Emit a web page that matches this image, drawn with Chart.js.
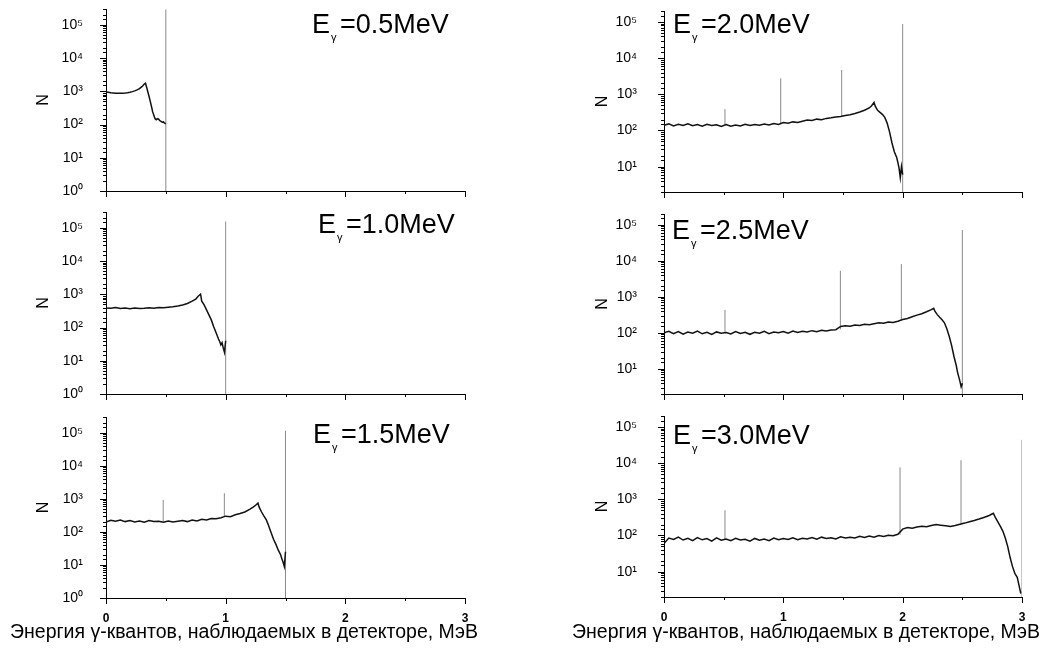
<!DOCTYPE html>
<html>
<head>
<meta charset="utf-8">
<script src="https://cdn.jsdelivr.net/npm/chart.js@4.4.1/dist/chart.umd.min.js"></script>
<style>
  html, body { margin: 0; padding: 0; background: #fff; }
  body { width: 1053px; height: 652px; position: relative; overflow: hidden; }
  canvas { position: absolute; }
</style>
</head>
<body>
<canvas id="c1"></canvas>
<canvas id="c2"></canvas>
<canvas id="c3"></canvas>
<canvas id="c4"></canvas>
<canvas id="c5"></canvas>
<canvas id="c6"></canvas>
<script>
//////////////////////////////// data ////////////////////////////////

// E = 0.5 MeV
const e1 = [0, 0.02, 0.04, 0.06, 0.08, 0.10, 0.12, 0.14, 0.16, 0.18, 0.20, 0.22, 0.24, 0.26, 0.28, 0.30, 0.31, 0.32, 0.33, 0.34,
            0.35, 0.36, 0.37, 0.38, 0.39, 0.40, 0.41, 0.42, 0.43, 0.44, 0.45, 0.46, 0.47, 0.48, 0.49, 0.50];
const n1 = [950, 930, 900, 890, 880, 870, 875, 880, 890, 910, 940, 980, 1030, 1100, 1200, 1380, 1500, 1650, 1750, 1300,
            950, 700, 500, 350, 240, 190, 150, 140, 150, 145, 130, 125, 118, 120, 110, 105];
const peakE1 = [0.5], peakLo1 = [1], peakHi1 = [290000];

// E = 1.0 MeV
const e2 = [0, 0.04, 0.08, 0.12, 0.16, 0.20, 0.24, 0.28, 0.32, 0.36, 0.40, 0.44, 0.48, 0.52, 0.56, 0.60, 0.64, 0.68, 0.72, 0.75,
            0.77, 0.79, 0.80, 0.82, 0.84, 0.86, 0.88, 0.90, 0.92, 0.94, 0.95, 0.96, 0.97, 0.98, 0.99, 1.00];
const n2 = [390, 380, 400, 375, 385, 370, 390, 375, 380, 395, 380, 400, 395, 410, 420, 445, 480, 530, 620, 720,
            880, 1010, 620, 480, 340, 240, 170, 105, 70, 45, 38, 30, 35, 24, 18, 40];
const peakE2 = [1.0], peakLo2 = [1], peakHi2 = [155000];

// E = 1.5 MeV
const e3 = [0, 0.04, 0.08, 0.12, 0.16, 0.20, 0.24, 0.28, 0.32, 0.36, 0.40, 0.44, 0.48, 0.52, 0.56, 0.60, 0.64, 0.68, 0.72, 0.76,
            0.80, 0.84, 0.88, 0.92, 0.96, 1.00, 1.04, 1.08, 1.12, 1.16, 1.20, 1.23, 1.25, 1.27, 1.28, 1.30, 1.32, 1.34, 1.36, 1.38,
            1.40, 1.42, 1.44, 1.46, 1.47, 1.48, 1.49, 1.50];
const n3 = [200, 225, 210, 230, 205, 220, 200, 215, 195, 220, 205, 210, 195, 215, 200, 210, 220, 205, 230, 215,
            240, 230, 255, 250, 270, 300, 290, 330, 360, 400, 480, 560, 640, 740, 560, 400, 300, 230, 150, 95,
            60, 42, 28, 20, 15, 12, 9, 25];
const peakE3 = [0.478, 0.989, 1.5], peakLo3 = [205, 300, 1], peakHi3 = [930, 1480, 115000];

// E = 2.0 MeV
const e4 = [0, 0.04, 0.08, 0.12, 0.16, 0.20, 0.24, 0.28, 0.32, 0.36, 0.40, 0.44, 0.48, 0.52, 0.56, 0.60, 0.64, 0.68, 0.72, 0.76,
            0.80, 0.84, 0.88, 0.92, 0.96, 1.00, 1.04, 1.08, 1.12, 1.16, 1.20, 1.24, 1.28, 1.32, 1.36, 1.40, 1.44, 1.48, 1.52, 1.56,
            1.60, 1.64, 1.68, 1.72, 1.74, 1.76, 1.77, 1.79, 1.81, 1.83, 1.85, 1.87, 1.89, 1.91, 1.93, 1.95, 1.96, 1.97, 1.98, 1.99,
            2.00];
const n4 = [140, 152, 134, 148, 137, 153, 135, 146, 131, 149, 137, 143, 129, 146, 131, 141, 134, 149, 137, 146,
            139, 151, 142, 156, 147, 166, 159, 173, 167, 181, 195, 188, 206, 199, 216, 225, 236, 244, 259, 274,
            296, 326, 362, 420, 485, 600, 470, 360, 318, 280, 230, 160, 92, 46, 26, 18, 13, 9, 5, 10,
            6];
const peakE4 = [0.511, 0.978, 1.489, 2.0], peakLo4 = [140, 160, 250, 2], peakHi4 = [390, 2760, 4700, 87000];

// E = 2.5 MeV
const e5 = [0, 0.04, 0.08, 0.12, 0.16, 0.20, 0.24, 0.28, 0.32, 0.36, 0.40, 0.44, 0.48, 0.52, 0.56, 0.60, 0.64, 0.68, 0.72, 0.76,
            0.80, 0.84, 0.88, 0.92, 0.96, 1.00, 1.04, 1.08, 1.12, 1.16, 1.20, 1.24, 1.28, 1.32, 1.36, 1.40, 1.44,
            1.48, 1.52, 1.56, 1.60, 1.64, 1.68, 1.72, 1.76, 1.80, 1.84, 1.88, 1.92, 1.96, 2.00, 2.04, 2.08, 2.12, 2.16, 2.20, 2.24,
            2.26, 2.27, 2.29, 2.31, 2.33, 2.35, 2.37, 2.39, 2.41, 2.43, 2.45, 2.46, 2.47, 2.48, 2.49, 2.50];
const n5 = [100, 110, 95, 108, 92, 105, 98, 112, 94, 104, 90, 106, 97, 102, 93, 108, 96, 104, 91, 103,
            97, 110, 95, 105, 100, 108, 98, 112, 103, 110, 105, 115, 108, 118, 112, 120, 122,
            150, 158, 152, 165, 160, 172, 168, 180, 190, 185, 200, 195, 210, 235, 250, 280, 310, 340, 385, 440,
            480, 400, 320, 270, 230, 190, 130, 80, 45, 22, 12, 8, 6, 4.5, 3.2, 4];
const peakE5 = [0.511, 1.478, 1.989, 2.5], peakLo5 = [100, 125, 230, 2], peakHi5 = [430, 5300, 8100, 72000];

// E = 3.0 MeV
const e6 = [0, 0.04, 0.08, 0.12, 0.16, 0.20, 0.24, 0.28, 0.32, 0.36, 0.40, 0.44, 0.48, 0.52, 0.56, 0.60, 0.64, 0.68, 0.72, 0.76,
            0.80, 0.84, 0.88, 0.92, 0.96, 1.00, 1.04, 1.08, 1.12, 1.16, 1.20, 1.24, 1.28, 1.32, 1.36, 1.40, 1.44, 1.48, 1.52, 1.56,
            1.60, 1.64, 1.68, 1.72, 1.76, 1.80, 1.84, 1.88, 1.92, 1.96,
            2.00, 2.04, 2.08, 2.12, 2.16, 2.20, 2.24, 2.28, 2.32, 2.36, 2.40, 2.44, 2.48, 2.52, 2.56, 2.60, 2.64, 2.68, 2.72,
            2.74, 2.76, 2.78, 2.80, 2.82, 2.84, 2.86, 2.88, 2.90, 2.92, 2.94, 2.96, 2.97, 2.98, 2.99];
const n6 = [60, 85, 78, 90, 75, 84, 72, 88, 76, 82, 70, 86, 74, 80, 72, 84, 75, 79, 70, 83,
            74, 80, 72, 85, 76, 82, 78, 86, 77, 84, 80, 88, 79, 90, 83, 87, 80, 92, 85, 90,
            86, 95, 88, 96, 90, 100, 94, 102, 98, 108,
            150, 165, 158, 172, 180, 175, 190, 200, 192, 185, 178, 190, 205, 220, 240, 260, 285, 315, 350,
            380, 410, 300, 230, 175, 130, 85, 50, 25, 14, 9, 7, 5, 3.5, 2.5];
const peakE6 = [0.511, 1.978, 2.489, 3.0], peakLo6 = [80, 105, 210, 2], peakHi6 = [500, 7600, 12000, 44000];

const titleEnergies = ['0.5', '1.0', '1.5', '2.0', '2.5', '3.0'];
const xTickLabels = ['0', '1', '2', '3'];
const supDigits = ['\u2070', '\u00B9', '\u00B2', '\u00B3', '\u2074', '\u2075'];
const xTitle = 'Энергия \u03B3-квантов, наблюдаемых в детекторе, МэВ';

//////////////////////////////// layout of the six panels ////////////////////////////////

const panels = [
  { id: 'c1', e: e1, n: n1, pe: peakE1, plo: peakLo1, phi: peakHi1, left: 0,   top: 7,   w: 540, pr: 75, h: 192, yw: 106, np: 34, xh: 8,  ymin: 1, ymax: 3e5, tx: 312, ty: 33 },
  { id: 'c2', e: e2, n: n2, pe: peakE2, plo: peakLo2, phi: peakHi2, left: 0,   top: 210, w: 540, pr: 75, h: 192, yw: 106, np: 34, xh: 8,  ymin: 1, ymax: 3e5, tx: 318, ty: 233 },
  { id: 'c3', e: e3, n: n3, pe: peakE3, plo: peakLo3, phi: peakHi3, left: 0,   top: 415, w: 540, pr: 75, h: 237, yw: 106, np: 34, xh: 54, ymin: 1, ymax: 3e5, tx: 313, ty: 443, bottom: true, qx: 10 },
  { id: 'c4', e: e4, n: n4, pe: peakE4, plo: peakLo4, phi: peakHi4, left: 555, top: 9,   w: 498, pr: 31, h: 191, yw: 109, np: 38, xh: 8,  ymin: 2, ymax: 2e5, tx: 673, ty: 33 },
  { id: 'c5', e: e5, n: n5, pe: peakE5, plo: peakLo5, phi: peakHi5, left: 555, top: 212, w: 498, pr: 31, h: 190, yw: 109, np: 38, xh: 8,  ymin: 2, ymax: 2e5, tx: 672, ty: 239 },
  { id: 'c6', e: e6, n: n6, pe: peakE6, plo: peakLo6, phi: peakHi6, left: 555, top: 414, w: 498, pr: 31, h: 238, yw: 109, np: 38, xh: 55, ymin: 2, ymax: 2e5, tx: 673, ty: 444, bottom: true, qx: 572 },
];

const FONT = "'Liberation Sans', Arial, sans-serif";
Chart.defaults.font.family = FONT;
Chart.defaults.color = '#000';

const isPow10 = v => Math.abs(Math.log10(v) - Math.round(Math.log10(v))) < 1e-6;

// tick marks (long at decades / integers, short otherwise), the E_gamma caption, x axis title
const panelDecor = {
  id: 'panelDecor',
  afterDraw(chart, args, opts) {
    const { ctx, chartArea: a, scales: { x, y } } = chart;
    ctx.save();
    ctx.strokeStyle = '#000';
    ctx.lineWidth = 1;
    ctx.beginPath();
    y.ticks.forEach(t => {
      const py = Math.round(y.getPixelForValue(t.value)) + 0.5;
      const len = isPow10(t.value) ? 6 : 3;
      ctx.moveTo(a.left - len, py);
      ctx.lineTo(a.left, py);
    });
    x.ticks.forEach(t => {
      const px = Math.round(x.getPixelForValue(t.value)) + 0.5;
      const len = Number.isInteger(t.value) ? 6 : 3;
      ctx.moveTo(px, a.bottom);
      ctx.lineTo(px, a.bottom + len);
    });
    ctx.stroke();

    ctx.fillStyle = '#000';
    ctx.textBaseline = 'alphabetic';
    ctx.textAlign = 'left';
    ctx.font = '27px ' + FONT;
    ctx.fillText('E', opts.tx, opts.ty);
    ctx.fillText('=' + opts.energy + 'MeV', opts.tx + 28, opts.ty);
    ctx.font = '11px ' + FONT;
    ctx.fillText('\u03B3', opts.tx + 19, opts.ty + 8);

    if (opts.qx !== null) {
      ctx.font = '19.5px ' + FONT;
      ctx.fillText(xTitle, opts.qx, opts.qy);
    }
    ctx.restore();
  }
};

panels.forEach((p, i) => {
  const cv = document.getElementById(p.id);
  cv.width = p.w;
  cv.height = p.h;
  cv.style.left = p.left + 'px';
  cv.style.top = p.top + 'px';

  const spectrum = p.e.map((v, k) => ({ x: v, y: p.n[k] }));
  const peaks = [];
  p.pe.forEach((v, k) => {
    peaks.push({ x: v, y: p.plo[k] }, { x: v, y: p.phi[k] }, { x: v, y: null });
  });

  new Chart(cv, {
    type: 'line',
    data: {
      datasets: [{
        label: 'spectrum',
        data: spectrum,
        borderColor: '#111',
        borderWidth: 1.5,
        pointRadius: 0,
        tension: 0,
      }, {
        label: 'peaks',
        data: peaks,
        borderColor: '#8a8a8a',
        borderWidth: 1,
        pointRadius: 0,
        spanGaps: false,
      }]
    },
    options: {
      responsive: false,
      animation: false,
      events: [],
      layout: { padding: { top: 2, right: p.pr, left: 0, bottom: 0 } },
      plugins: {
        legend: { display: false },
        tooltip: { enabled: false },
        panelDecor: {
          tx: p.tx - p.left, ty: p.ty - p.top, energy: titleEnergies[i],
          qx: p.bottom ? p.qx - p.left : null, qy: 638 - p.top,
        },
      },
      scales: {
        x: {
          type: 'linear',
          min: 0,
          max: 3,
          grid: { display: false, drawTicks: false },
          border: { display: true, color: '#000', width: 1 },
          ticks: {
            display: !!p.bottom,
            stepSize: 0.5,
            autoSkip: false,
            maxRotation: 0,
            padding: 13,
            font: { size: 12, weight: 'bold' },
            callback: v => Number.isInteger(v) ? xTickLabels[v] : '',
          },
          afterFit: s => { s.height = p.xh; s.paddingLeft = 0; s.paddingRight = 0; },
        },
        y: {
          type: 'logarithmic',
          min: p.ymin,
          max: p.ymax,
          grid: { display: false, drawTicks: false },
          border: { display: true, color: '#000', width: 1 },
          ticks: {
            autoSkip: false,
            padding: p.left < 100 ? 23 : 27,
            font: { size: 14 },
            callback: v => isPow10(v) ? '10' + supDigits[Math.round(Math.log10(v))] : '',
          },
          title: {
            display: true,
            text: 'N',
            font: { size: 16 },
            padding: { top: p.np, bottom: 4 },
          },
          afterFit: s => { s.width = p.yw; s.paddingTop = 0; s.paddingBottom = 0; },
        }
      }
    },
    plugins: [panelDecor]
  });
});
</script>
</body>
</html>
